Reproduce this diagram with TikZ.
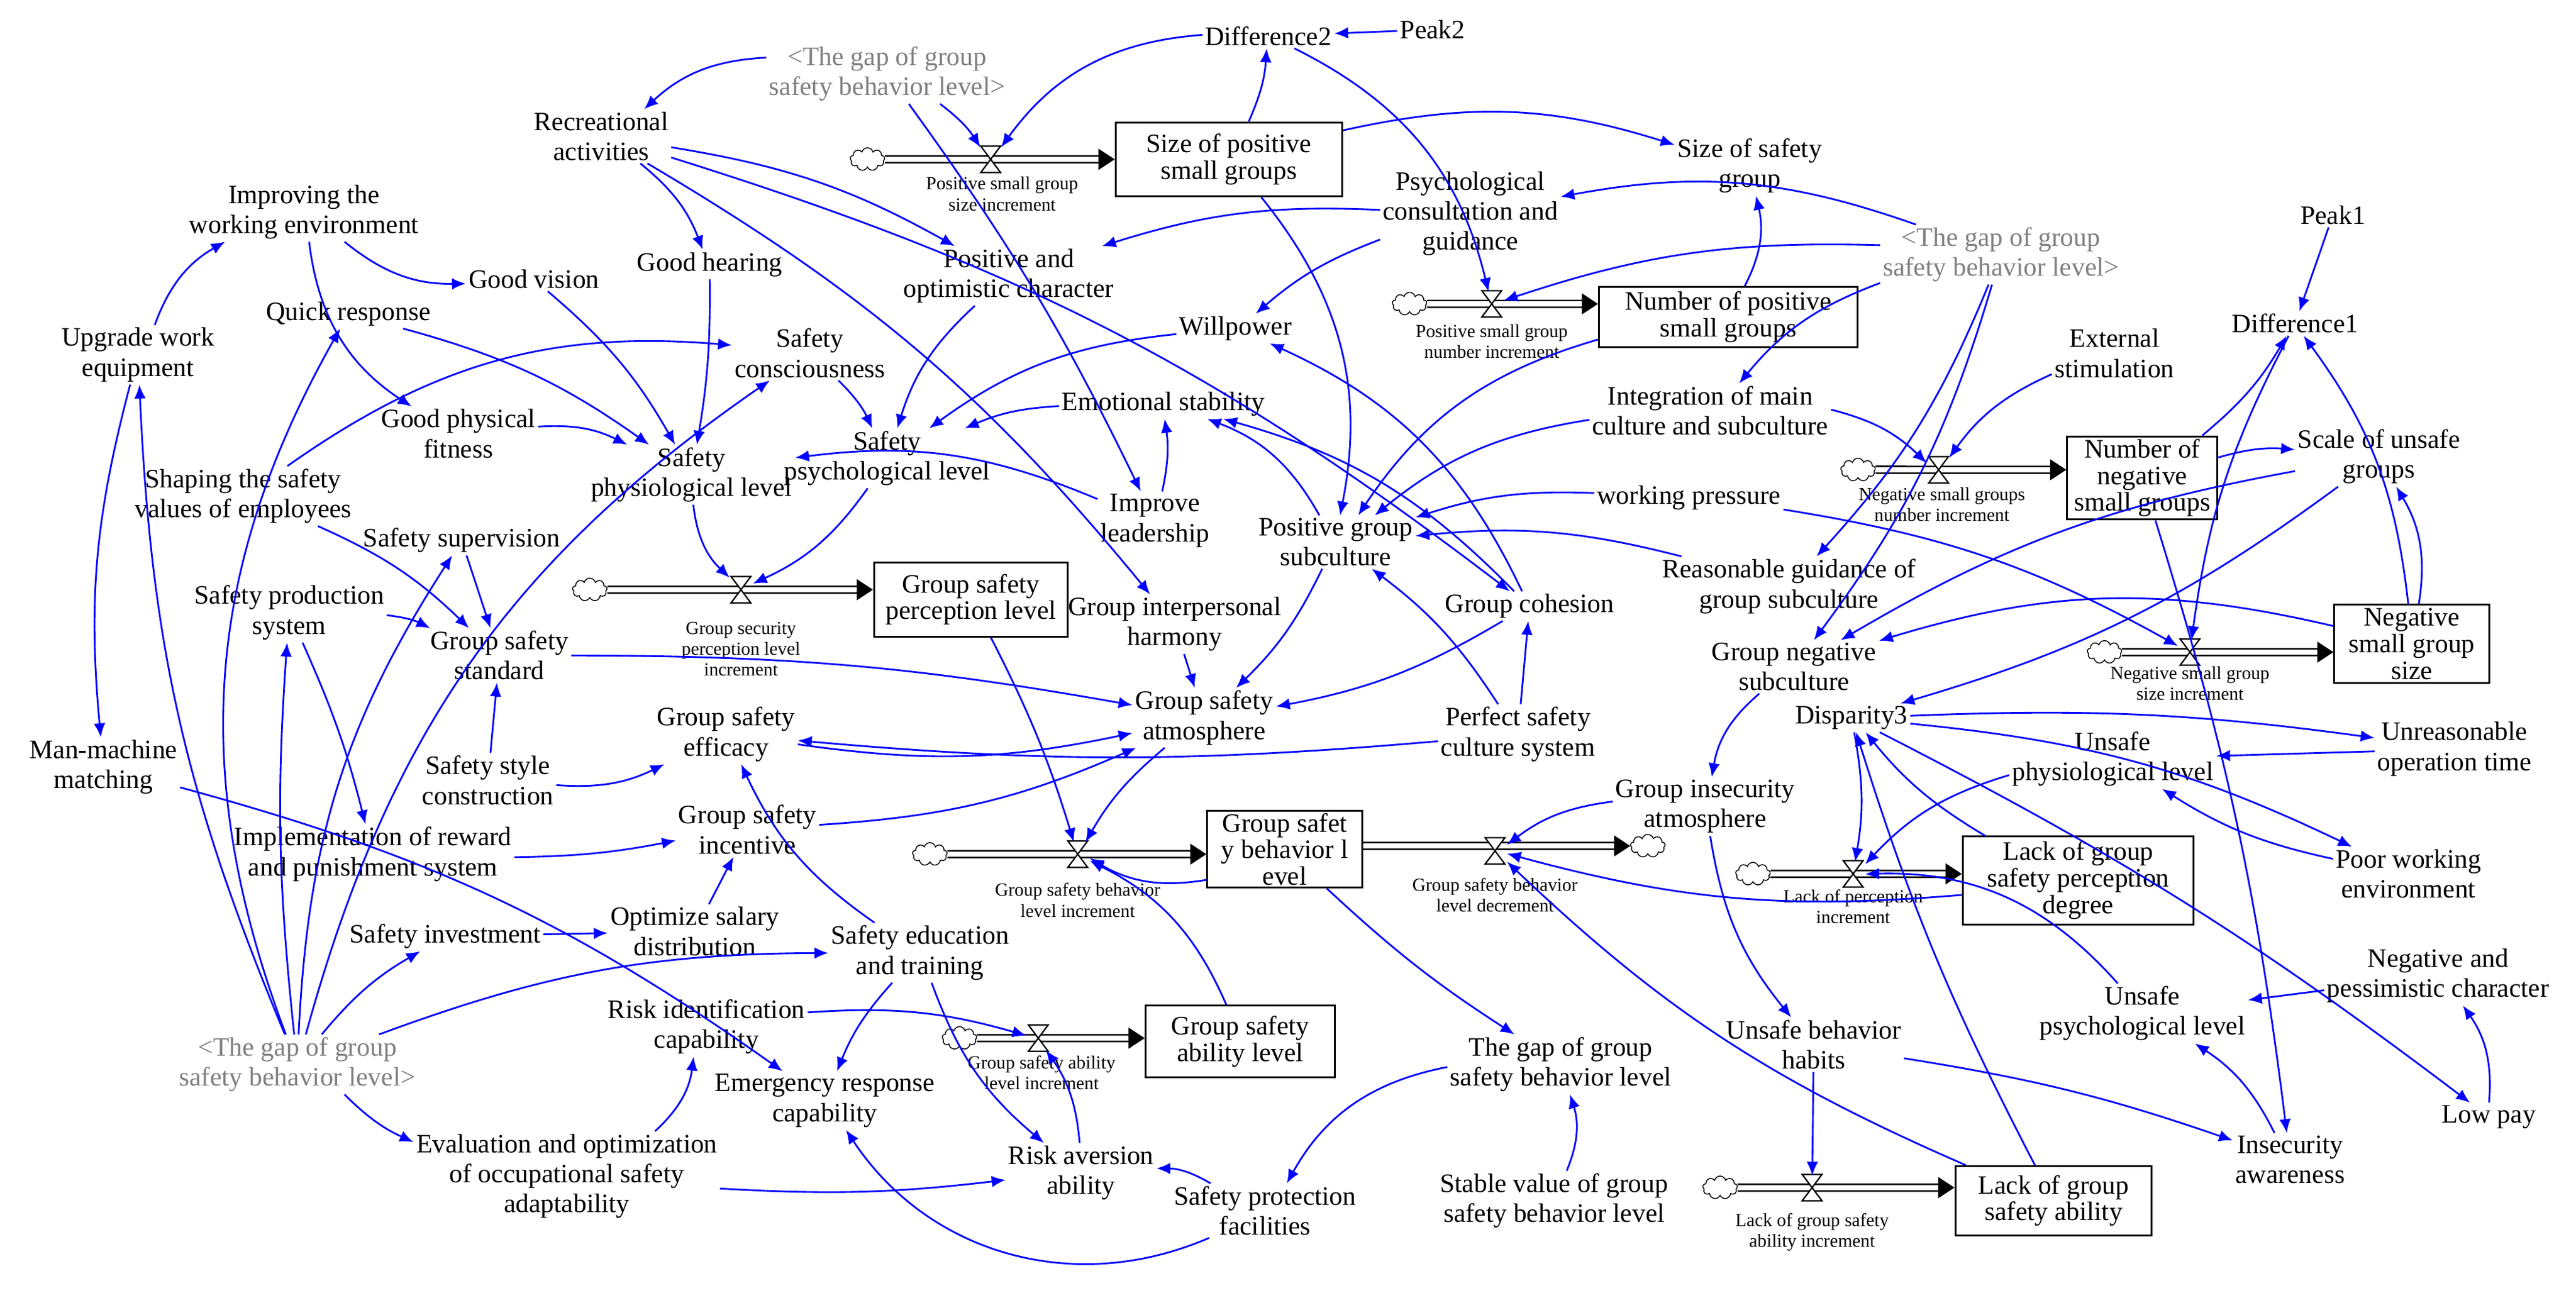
\documentclass[tikz,border=0pt]{standalone}
\usepackage{fontspec}
\setmainfont{Liberation Serif}
\usetikzlibrary{arrows.meta,shapes.symbols}
\begin{document}
\begin{tikzpicture}[x=0.025cm,y=-0.025cm,
 v/.style={align=center,font=\fontsize{11.5}{13}\selectfont,inner sep=1pt},
 g/.style={v,text=gray},
 bx/.style={v,draw,line width=0.8pt,minimum width=98pt,minimum height=32pt,inner sep=1pt,font=\fontsize{11.5}{11.5}\selectfont},
 sm/.style={align=center,font=\fontsize{8}{9}\selectfont,inner sep=0pt},
 vn/.style={minimum size=10pt,inner sep=0pt},
 cl/.style={cloud,draw,cloud puffs=9,minimum width=15pt,minimum height=10pt,inner sep=0pt},
 pipe/.style={double=white,double distance=2.2pt,line width=0.7pt,-{Triangle[length=7pt,width=9pt]}},
 a/.style={->,>={Latex[length=6pt,width=5pt]},blue,line width=0.75pt}]
\useasboundingbox (0,0) rectangle (1568,787);
\newcommand\valve[2]{\node[vn] (#1) at (#2) {};\draw[shift={(#2)},fill=white,line width=0.6pt] (-6,-8)--(6,-8)--(-6,8)--(6,8)--cycle;}
% variables
\node[g] (gapA) at (540,45) {<The gap of group\\safety behavior level>};
\node[v] (d2) at (772,22) {Difference2};
\node[v] (p2) at (872,18) {Peak2};
\node[v] (ssg) at (1065,101) {Size of safety\\group};
\node[v] (psy) at (895,130) {Psychological\\consultation and\\guidance};
\node[g] (gapB) at (1218,155) {<The gap of group\\safety behavior level>};
\node[v] (p1) at (1420,131) {Peak1};
\node[v] (rec) at (366,83) {Recreational\\activities};
\node[v] (iwe) at (185,129) {Improving the\\working environment};
\node[v] (ghe) at (432,161) {Good hearing};
\node[v] (gvi) at (325,170) {Good vision};
\node[v] (poc) at (614,168) {Positive and\\optimistic character};
\node[v] (qr) at (212,191) {Quick response};
\node[v] (uwe) at (84,216) {Upgrade work\\equipment};
\node[v] (sc) at (493,215) {Safety\\consciousness};
\node[v] (wil) at (752,200) {Willpower};
\node[v] (ext) at (1287,215) {External\\stimulation};
\node[v] (d1) at (1397,197) {Difference1};
\node[v] (gpf) at (279,264) {Good physical\\fitness};
\node[v] (sphy) at (421,289) {Safety\\physiological level};
\node[v] (spsy) at (540,279) {Safety\\psychological level};
\node[v] (emo) at (708,246) {Emotional stability};
\node[v] (int) at (1041,250) {Integration of main\\culture and subculture};
\node[v] (shp) at (148,302) {Shaping the safety\\values of employees};
\node[v] (sus) at (1448,278) {Scale of unsafe\\groups};
\node[v] (il) at (703,317) {Improve\\leadership};
\node[v] (pgs) at (813,330) {Positive group\\subculture};
\node[v] (wp) at (1028,303) {working pressure};
\node[v] (ssv) at (281,329) {Safety supervision};
\node[v] (sps) at (176,373) {Safety production\\system};
\node[v] (gih) at (715,380) {Group interpersonal\\harmony};
\node[v] (gc) at (931,369) {Group cohesion};
\node[v] (rg) at (1089,357) {Reasonable guidance of\\group subculture};
\node[v] (gss) at (304,399) {Group safety\\standard};
\node[v] (gns) at (1092,406) {Group negative\\subculture};
\node[v] (gsa) at (733,437) {Group safety\\atmosphere};
\node[v] (psc) at (924,447) {Perfect safety\\culture system};
\node[v] (gse) at (442,447) {Group safety\\efficacy};
\node[v] (dis3) at (1127,437) {Disparity3};
\node[v] (uot) at (1494,456) {Unreasonable\\operation time};
\node[v] (uphy) at (1286,462) {Unsafe\\physiological level};
\node[v] (mmm) at (63,467) {Man-machine\\matching};
\node[v] (ssc) at (297,475) {Safety style\\construction};
\node[v] (gia) at (1038,491) {Group insecurity\\atmosphere};
\node[v] (gsi) at (455,505) {Group safety\\incentive};
\node[v] (irp) at (227,520) {Implementation of reward\\and punishment system};
\node[v] (pwe) at (1466,532) {Poor working\\environment};
\node[v] (osd) at (423,567) {Optimize salary\\distribution};
\node[v] (sin) at (271,570) {Safety investment};
\node[v] (set) at (560,580) {Safety education\\and training};
\node[v] (npc) at (1484,594) {Negative and\\pessimistic character};
\node[v] (ric) at (430,625) {Risk identification\\capability};
\node[v] (gap) at (950,648) {The gap of group\\safety behavior level};
\node[v] (ubh) at (1104,636) {Unsafe behavior\\habits};
\node[v] (upsy) at (1304,617) {Unsafe\\psychological level};
\node[g] (gapC) at (181,648) {<The gap of group\\safety behavior level>};
\node[v] (erc) at (502,670) {Emergency response\\capability};
\node[v] (lp) at (1515,680) {Low pay};
\node[v] (eva) at (345,716) {Evaluation and optimization\\of occupational safety\\adaptability};
\node[v] (raa) at (658,714) {Risk aversion\\ability};
\node[v] (spf) at (770,737) {Safety protection\\facilities};
\node[v] (stv) at (946,731) {Stable value of group\\safety behavior level};
\node[v] (ia) at (1394,706) {Insecurity\\awareness};
% stocks
\node[bx] (spg) at (748,97) {Size of positive\\small groups};
\node[bx,minimum width=112pt,minimum height=26pt] (npg) at (1052,193) {Number of positive\\small groups};
\node[bx,minimum width=65pt,minimum height=36pt] (nng) at (1304,291) {Number of\\negative\\small groups};
\node[bx,minimum width=84pt] (gspl) at (591,365) {Group safety\\perception level};
\node[bx,minimum width=67pt,minimum height=34pt] (nsg) at (1468,392) {Negative\\small group\\size};
\node[bx,minimum width=67pt] (gsbl) at (782,517) {Group safet\\y behavior l\\evel};
\node[bx,minimum width=100pt,minimum height=38pt] (lsp) at (1265,536) {Lack of group\\safety perception\\degree};
\node[bx,minimum width=82pt,minimum height=31pt] (gsal) at (755,634) {Group safety\\ability level};
\node[bx,minimum width=85pt,minimum height=30pt] (lsa) at (1250,731) {Lack of group\\safety ability};
% flows
\node[cl] (c1) at (528,97) {}; \node[cl] (c2) at (858,185) {};
\node[cl] (c3) at (1131,286) {}; \node[cl] (c4) at (359,359) {};
\node[cl] (c5) at (1281,397) {}; \node[cl] (c6) at (566,520) {};
\node[cl] (c7) at (1003,515) {}; \node[cl] (c8) at (1067,532) {};
\node[cl] (c9) at (584,632) {}; \node[cl] (c10) at (1047,723) {};
\draw[pipe] (c1) -- (spg); \draw[pipe] (c2) -- (c2-|npg.west);
\draw[pipe] (c3) -- (c3-|nng.west); \draw[pipe] (c4) -- (c4-|gspl.west);
\draw[pipe] (c5) -- (c5-|nsg.west); \draw[pipe] (c6) -- (c6-|gsbl.west);
\draw[pipe] (c7-|gsbl.east) -- (c7); \draw[pipe] (c8) -- (c8-|lsp.west);
\draw[pipe] (c9) -- (c9-|gsal.west); \draw[pipe] (c10) -- (c10-|lsa.west);
\valve{v1}{603,97} \valve{v2}{908,185} \valve{v3}{1180,286} \valve{v4}{451,359}
\valve{v5}{1333,397} \valve{v6}{656,520} \valve{v7}{910,518} \valve{v8}{1128,532}
\valve{v9}{632,632} \valve{v10}{1103,723}
\node[sm] at (610,118) {Positive small group\\size increment};
\node[sm] at (908,208) {Positive small group\\number increment};
\node[sm] at (1182,307) {Negative small groups\\number increment};
\node[sm] at (451,395) {Group security\\perception level\\increment};
\node[sm] at (1333,416) {Negative small group\\size increment};
\node[sm] at (656,548) {Group safety behavior\\level increment};
\node[sm] at (910,545) {Group safety behavior\\level decrement};
\node[sm] at (1128,552) {Lack of perception\\increment};
\node[sm] at (634,653) {Group safety ability\\level increment};
\node[sm] at (1103,750) {Lack of group safety\\ability increment};
% connectors
\draw[a] (gapA) to[bend right=20] (rec);
\draw[a] (gapA) to[bend left=5] (il);
\draw[a] (gapA) to[bend left=10] (v1);
\draw[a] (d2) to[bend right=25] (v1);
\draw[a] (spg) to[bend right=10] (d2);
\draw[a] (p2) -- (d2);
\draw[a] (d2) to[bend left=25] (v2);
\draw[a] (spg) to[bend left=15] (ssg);
\draw[a] (spg) to[bend left=25] (pgs);
\draw[a] (rec) to[bend left=15] (ghe);
\draw[a] (rec) to[bend left=10] (poc);
\draw[a] (rec) to[bend left=10] (gih);
\draw[a] (rec) to[bend left=10] (gc);
\draw[a] (iwe) to[bend right=20] (gvi);
\draw[a] (iwe) to[bend right=25] (gpf);
\draw[a] (uwe) to[bend left=20] (iwe);
\draw[a] (uwe) to[bend right=10] (mmm);
\draw[a] (gapC) to[bend left=10] (uwe);
\draw[a] (gapC) to[bend left=5] (sps);
\draw[a] (gapC) to[bend left=15] (ssv);
\draw[a] (gapC) to[bend left=20] (sc);
\draw[a] (gapC) to[bend left=10] (sin);
\draw[a] (gapC) to[bend left=10] (set);
\draw[a] (gapC) to[bend right=10] (eva);
\draw[a] (gapC) to[bend left=25] (qr);
\draw[a] (qr) to[bend left=10] (sphy);
\draw[a] (gvi) to[bend left=10] (sphy);
\draw[a] (ghe) to[bend left=5] (sphy);
\draw[a] (gpf) to[bend left=15] (sphy);
\draw[a] (shp) to[bend left=20] (sc);
\draw[a] (shp) to[bend left=10] (gss);
\draw[a] (sc) to[bend left=10] (spsy);
\draw[a] (wil) to[bend right=15] (spsy);
\draw[a] (poc) to[bend right=15] (spsy);
\draw[a] (emo) to[bend right=10] (spsy);
\draw[a] (sphy) to[bend right=20] (v4);
\draw[a] (spsy) to[bend left=15] (v4);
\draw[a] (psy) to[bend right=10] (poc);
\draw[a] (psy) to[bend right=10] (wil);
\draw[a] (gapB) to[bend right=15] (psy);
\draw[a] (gapB) to[bend right=10] (v2);
\draw[a] (gapB) to[bend left=10] (rg);
\draw[a] (gapB) to[bend right=15] (int);
\draw[a] (gapB) to[bend left=10] (gns);
\draw[a] (npg) to[bend right=20] (ssg);
\draw[a] (npg) to[bend right=20] (pgs);
\draw[a] (int) to[bend right=15] (pgs);
\draw[a] (int) to[bend left=15] (v3);
\draw[a] (ext) to[bend right=15] (v3);
\draw[a] (nng) to[bend right=10] (d1);
\draw[a] (p1) -- (d1);
\draw[a] (nsg) to[bend right=15] (d1);
\draw[a] (d1) to[bend right=10] (v5);
\draw[a] (nng) to[bend left=10] (sus);
\draw[a] (nsg) to[bend right=20] (sus);
\draw[a] (sus) to[bend left=10] (dis3);
\draw[a] (sus) to[bend right=10] (gns);
\draw[a] (nng) to[bend left=5] (ia);
\draw[a] (nsg) to[bend right=15] (gns);
\draw[a] (wp) to[bend right=10] (pgs);
\draw[a] (wp) to[bend left=10] (v5);
\draw[a] (rg) to[bend right=10] (pgs);
\draw[a] (gc) to[bend right=20] (wil);
\draw[a] (gc) to[bend right=15] (emo);
\draw[a] (pgs) to[bend right=20] (emo);
\draw[a] (pgs) to[bend left=10] (gsa);
\draw[a] (gih) -- (gsa);
\draw[a] (gc) to[bend left=10] (gsa);
\draw[a] (psc) -- (gc);
\draw[a] (psc) to[bend right=10] (pgs);
\draw[a] (psc) to[bend left=5] (gse);
\draw[a] (il) to[bend right=10] (emo);
\draw[a] (il) to[bend right=15] (sphy);
\draw[a] (gss) to[bend left=5] (gsa);
\draw[a] (ssv) -- (gss);
\draw[a] (sps) to[bend left=10] (gss);
\draw[a] (sps) to[bend left=5] (irp);
\draw[a] (ssc) -- (gss);
\draw[a] (ssc) to[bend right=15] (gse);
\draw[a] (gse) to[bend right=10] (gsa);
\draw[a] (gsi) to[bend right=10] (gsa);
\draw[a] (irp) to[bend right=5] (gsi);
\draw[a] (osd) -- (gsi);
\draw[a] (sin) -- (osd);
\draw[a] (set) to[bend left=15] (gse);
\draw[a] (set) to[bend right=10] (erc);
\draw[a] (set) to[bend right=15] (raa);
\draw[a] (ric) to[bend left=10] (v9);
\draw[a] (gsa) to[bend right=10] (v6);
\draw[a] (gspl) to[bend left=5] (v6);
\draw[a] (gsal) to[bend right=20] (v6);
\draw[a] (gsbl) to[bend left=20] (v6);
\draw[a] (gsbl) to[bend right=5] (gap);
\draw[a] (gia) to[bend right=15] (v7);
\draw[a] (gia) to[bend right=15] (ubh);
\draw[a] (gns) to[bend right=20] (gia);
\draw[a] (lsp) to[bend left=10] (v7);
\draw[a] (lsa) to[bend left=10] (v7);
\draw[a] (ubh) -- (v10);
\draw[a] (ubh) to[bend left=5] (ia);
\draw[a] (stv) to[bend right=20] (gap);
\draw[a] (gap) to[bend right=25] (spf);
\draw[a] (spf) to[bend right=15] (raa);
\draw[a] (spf) to[bend left=40] (erc);
\draw[a] (eva) to[bend right=5] (raa);
\draw[a] (eva) to[bend right=20] (ric);
\draw[a] (mmm) to[bend left=10] (erc);
\draw[a] (raa) to[bend right=15] (v9);
\draw[a] (uphy) to[bend right=15] (v8);
\draw[a] (upsy) to[bend right=25] (v8);
\draw[a] (dis3) to[bend left=5] (uot);
\draw[a] (dis3) to[bend left=10] (pwe);
\draw[a] (dis3) to[bend left=5] (lp);
\draw[a] (uot) -- (uphy);
\draw[a] (pwe) to[bend left=10] (uphy);
\draw[a] (npc) -- (upsy);
\draw[a] (lp) to[bend right=20] (npc);
\draw[a] (ia) to[bend right=15] (upsy);
\draw[a] (lsa) to[bend left=5] (dis3);
\draw[a] (lsp) to[bend left=10] (dis3);
\draw[a] (dis3) to[bend left=10] (v8);
\end{tikzpicture}
\end{document}
